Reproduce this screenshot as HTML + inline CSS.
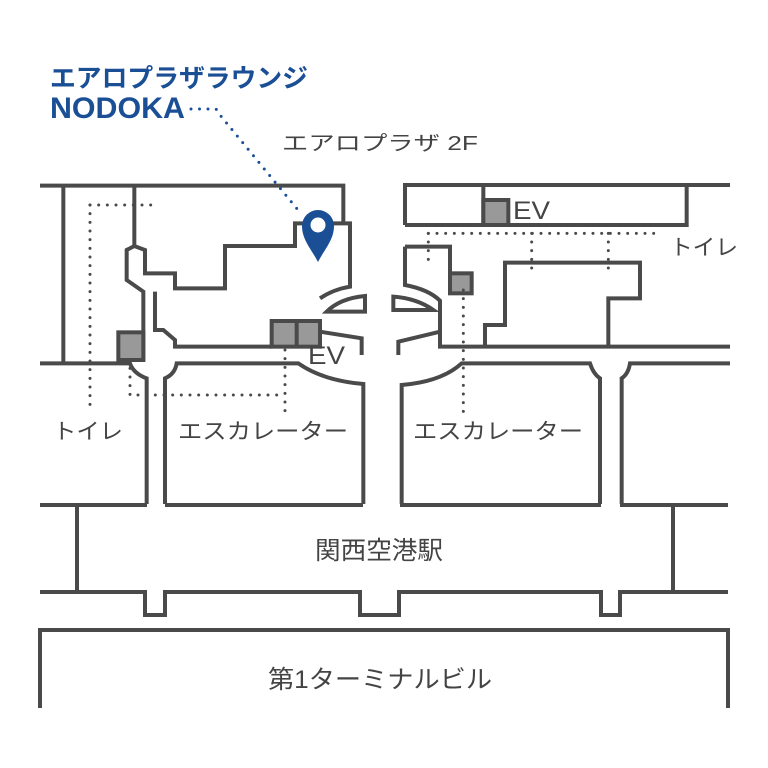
<!DOCTYPE html>
<html><head><meta charset="utf-8"><style>
html,body{margin:0;padding:0;background:#fff;}
svg{display:block}
text{font-family:"Liberation Sans","Noto Sans CJK JP",sans-serif;}
</style></head><body>
<svg width="768" height="768" viewBox="0 0 768 768" xmlns="http://www.w3.org/2000/svg">
<rect width="768" height="768" fill="#fff"/>
<!-- left upper area (zoom coords) -->
<g transform="translate(30,170) scale(0.33333)" fill="none" stroke="#4a4a4a" stroke-width="12">
  <path d="M30,47 H940 V160"/>
  <path d="M100,47 V580"/>
  <path d="M313,47 V228"/>
  <path d="M340,575 V365 L290,330 V240 L313,228 L345,240 V310 H435 V355 H585 V228 H795 V160 H960 V350 Q910,358 870,385"/>
  <path d="M890,425 Q930,385 1005,378 V425 Z"/>
  <path d="M375,365 V480 H400 L435,510 V530 H725"/>
  <path d="M870,485 L995,505 V555"/>
  <path d="M30,580 H300 Q310,610 350,625 V1002"/>
  <path d="M405,1002 V625 Q435,612 440,580 H805 Q880,632 1000,642 V1002"/>
  <rect x="265" y="487" width="75" height="83" fill="#999"/>
  <rect x="725" y="453" width="145" height="77" fill="#999"/>
  <path d="M800,453 V530"/>
  <g stroke-width="9" stroke-linecap="round" stroke-dasharray="0 26">
    <path d="M180,105 H365"/>
    <path d="M180,105 V725"/>
    <path d="M300,595 V675 H765"/>
    <path d="M765,540 V725"/>
  </g>
</g>
<!-- right upper area -->
<g transform="translate(380,170) scale(0.33333)" fill="none" stroke="#4a4a4a" stroke-width="12">
  <path d="M75,165 V45 H1050"/>
  <path d="M75,165 H920 V45"/>
  <path d="M310,45 V165"/>
  <rect x="310" y="90" width="75" height="75" fill="#999"/>
  <path d="M75,230 H210 V365 M75,230 V345 Q145,358 180,392 V530 H1050"/>
  <rect x="210" y="310" width="65" height="60" fill="#999"/>
  <path d="M40,380 Q110,385 160,420 H40 Z"/>
  <path d="M55,555 V515 L180,485"/>
  <path d="M315,530 V465 H375 V278 H780 V385 H685 V530"/>
  <path d="M65,1002 V645 Q185,635 245,580 H630 Q640,612 660,625 V1002"/>
  <path d="M725,1002 V625 Q745,612 750,580 H1050"/>
  <g stroke-width="9" stroke-linecap="round" stroke-dasharray="0 26">
    <path d="M145,190 H840"/>
    <path d="M145,190 V270"/>
    <path d="M455,190 V320"/>
    <path d="M685,190 V320"/>
    <path d="M250,360 V725"/>
  </g>
</g>
<!-- bottom -->
<g fill="none" stroke="#4a4a4a" stroke-width="4">
  <path d="M40,505 H147 M165,505 H363 M400,505 H601 M620,505 H728"/>
  <path d="M40,592 H145 V615 H165 V592 H360 V615 H399 V592 H601 V615 H620 V592 H728"/>
  <path d="M77,505 V592 M673,505 V592"/>
  <path d="M40,708 V630 H728 V708"/>
</g>
<!-- pin -->
<path d="M318,262 C312,250 302,240 302,226 A16,16 0 1 1 334,226 C334,240 324,250 318,262 Z" fill="#1a4f96"/>
<circle cx="318" cy="225" r="7.5" fill="#fff"/>
<!-- blue dotted -->
<g stroke="#1a4f96" stroke-width="3" stroke-linecap="round" stroke-dasharray="0 8.5" fill="none">
  <path d="M191,109 H216 L220,115 L298,210"/>
</g>
<!-- texts -->
<g fill="#1a4f96" font-weight="bold">
  <text x="50" y="87" font-size="25.8" textLength="258" lengthAdjust="spacingAndGlyphs">エアロプラザラウンジ</text>
  <text x="50" y="118" font-size="30" textLength="135" lengthAdjust="spacingAndGlyphs">NODOKA</text>
</g>
<g fill="#444" font-size="22">
  <text x="282" y="150" font-size="20" textLength="196" lengthAdjust="spacingAndGlyphs">エアロプラザ 2F</text>
  <text x="53" y="439" textLength="70" lengthAdjust="spacingAndGlyphs">トイレ</text>
  <text x="178" y="439" textLength="170" lengthAdjust="spacingAndGlyphs">エスカレーター</text>
  <text x="413" y="439" textLength="170" lengthAdjust="spacingAndGlyphs">エスカレーター</text>
  <text x="670" y="255" textLength="68" lengthAdjust="spacingAndGlyphs">トイレ</text>
  <text x="308" y="364" font-size="25" textLength="37" lengthAdjust="spacingAndGlyphs">EV</text>
  <text x="513" y="219" font-size="25" textLength="37" lengthAdjust="spacingAndGlyphs">EV</text>
  <text x="315" y="559" font-size="25" textLength="128" lengthAdjust="spacingAndGlyphs">関西空港駅</text>
  <text x="268" y="688" font-size="25" textLength="224" lengthAdjust="spacingAndGlyphs">第1ターミナルビル</text>
</g>
</svg>
</body></html>
